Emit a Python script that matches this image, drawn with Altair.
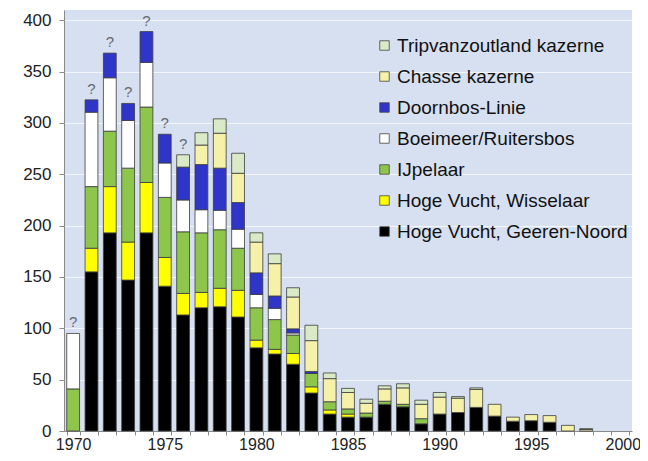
import altair as alt
import pandas as pd

years = list(range(1970, 2001))

series_names = [
    "Hoge Vucht, Geeren-Noord",
    "Hoge Vucht, Wisselaar",
    "IJpelaar",
    "Boeimeer/Ruitersbos",
    "Doornbos-Linie",
    "Chasse kazerne",
    "Tripvanzoutland kazerne",
]
series_colors = ["#000000", "#ffff00", "#8dc64a", "#ffffff", "#2f35c9", "#f6f1a8", "#dbeac6"]

#            1970 71   72   73   74   75   76   77   78   79   80   81   82   83   84    85    86    87  88    89  90    91  92  93    94   95  96   97   98 99 2000
geeren    = [0,   155, 193, 147, 193, 141, 113, 120, 121, 111, 81,  75,  65,  37,  16.5, 13.5, 13.5, 26, 23.5, 7,  16.5, 18, 23, 14.5, 9.5, 10, 8.5, 0,   0,  0, 0]
wisselaar = [0,   23,  45,  37,  49,  28,  21,  15,  18,  26,  7.5, 4.5, 10.5, 6,  4,    3,    0,    0,  0,    0,  0,    0,  0,  0,    0,   0,  0,   0,   0,  0, 0]
ijpelaar  = [41,  60,  54,  72,  73.5, 58.5, 60, 58,  57,  41,  31.5, 29, 18,  13,  8,    5,    4,    3,  2.5,  5,  0,    0,  0,  0,    0,   0,  0,   0,   0,  0, 0]
boeimeer  = [54,  72.5, 52, 46.5, 43.5, 33.5, 31, 22.5, 19, 18.5, 13, 11,  2,   0,   0,    0,    0,    0,  0,    0,  0,    0,  0,  0,    0,   0,  0,   0,   0,  0, 0]
doornbos  = [0,   12,  24,  16.5, 30,  28,  32,  44,  41,  26,  21,  12,  4,   2,   0,    0,    0,    0,  0,    0,  0,    0,  0,  0,    0,   0,  0,   0,   0,  0, 0]
chasse    = [0,   0,   0,   0,   0,   0,   0,   19,  34,  28.5, 30, 31.5, 31, 30,  22.5, 16,   9.5,  12, 16,   14, 16.5, 14, 17.5, 11.5, 4, 6,  6.5, 5.5, 1.5, 0, 0]
trip      = [0,   0,   0,   0,   0,   0,   12,  12,  14,  19.5, 9,  9.5, 9,   15,  5.5,  4,    4,    3,  4,    4,  4.5,  1.5, 1.5, 0,   0,   0,  0,   0,   0.8, 0, 0]

question_years = [1970, 1971, 1972, 1973, 1974, 1975, 1976]

y_ticks = [0, 50, 100, 150, 200, 250, 300, 350, 400]

all_series = [geeren, wisselaar, ijpelaar, boeimeer, doornbos, chasse, trip]
rows = []
for idx, (name, vals) in enumerate(zip(series_names, all_series)):
    for yr, v in zip(years, vals):
        rows.append({"year": yr, "series": name, "idx": idx, "value": v})
df = pd.DataFrame(rows)

legend_order = list(reversed(series_names))
legend_colors = list(reversed(series_colors))

axis_style = dict(
    labelFont="Liberation Sans",
    labelColor="#222222",
    domainColor="#8a8a8a",
    tickColor="#8a8a8a",
)

x_enc = alt.X(
    "year:O",
    scale=alt.Scale(domain=years, paddingInner=0.3, paddingOuter=0.15),
    axis=alt.Axis(
        title=None,
        labelAngle=0,
        values=years,
        labelExpr="datum.value % 5 == 0 ? datum.label : ''",
        tickBand="extent",
        grid=False,
        tickSize=4,
        labelPadding=1,
        labelFontSize=16,
        **axis_style,
    ),
)

bars = (
    alt.Chart(df)
    .transform_filter("datum.value > 0")
    .mark_bar(stroke="#3c3c3c", strokeWidth=0.8)
    .encode(
        x=x_enc,
        y=alt.Y(
            "value:Q",
            stack="zero",
            scale=alt.Scale(domain=[0, 410], nice=False),
            axis=alt.Axis(
                title=None,
                values=y_ticks,
                grid=True,
                gridColor="#f3f6fb",
                gridWidth=1,
                tickSize=5,
                labelPadding=8,
                labelFontSize=17,
                **axis_style,
            ),
        ),
        color=alt.Color(
            "series:N",
            scale=alt.Scale(domain=legend_order, range=legend_colors),
            legend=alt.Legend(
                title=None,
                orient="none",
                legendX=311,
                legendY=26,
                symbolType="square",
                symbolSize=90,
                symbolStrokeColor="#444444",
                symbolStrokeWidth=0.8,
                labelFont="Liberation Sans",
                labelFontSize=19,
                labelColor="#111111",
                labelLimit=400,
                rowPadding=11,
                labelOffset=3,
            ),
        ),
        order=alt.Order("idx:Q", sort="ascending"),
    )
)

qmarks = (
    alt.Chart(df)
    .transform_filter(alt.FieldOneOfPredicate(field="year", oneOf=question_years))
    .transform_aggregate(total="sum(value)", groupby=["year"])
    .mark_text(text="?", fontSize=15, color="#666a70", font="Liberation Sans", dy=-11)
    .encode(x=x_enc, y=alt.Y("total:Q"))
)

chart = (
    alt.layer(bars, qmarks)
    .properties(
        width=632,
        height=444,
        background="white",
        padding={"left": 14, "top": 2, "right": 0, "bottom": 0},
        autosize=alt.AutoSizeParams(type="fit", contains="padding"),
    )
    .configure_view(fill="#d7e0f0", strokeWidth=0)
)

chart.save("out.html", embed_options={"renderer": "svg", "actions": False})
